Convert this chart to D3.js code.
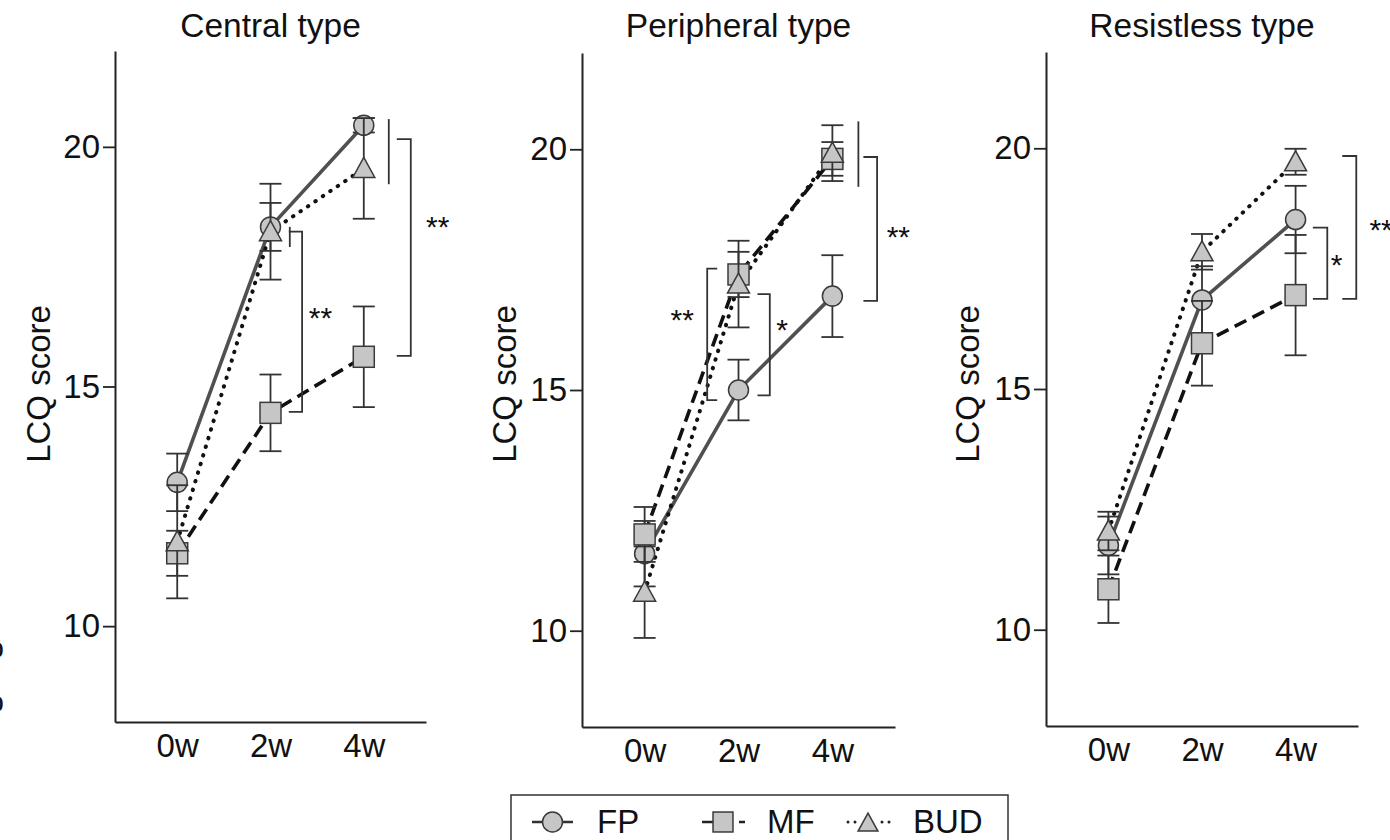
<!DOCTYPE html>
<html>
<head>
<meta charset="utf-8">
<script src="https://cdn.jsdelivr.net/npm/d3@7/dist/d3.min.js"></script>
<style>
  html, body { margin: 0; padding: 0; background: #fff; }
  svg { display: block; font-family: "Liberation Sans", Arial, Helvetica, sans-serif; }
</style>
</head>
<body>
<svg id="chart" width="1390" height="840"></svg>
<script>
// ---- data ----
const weeks = ["0w", "2w", "4w"];
const panelTitles = ["Central type", "Peripheral type", "Resistless type"];
const seriesNames = ["FP", "MF", "BUD"];
const yTicks = [10, 15, 20];
const yDomain = [8, 22];

// mean LCQ score per panel (Central, Peripheral, Resistless) and week
const fpMean  = [[13.0, 18.33, 20.45], [11.6, 15.0, 16.95], [11.75, 16.85, 18.52]];
const fpErr   = [[0.6, 0.5, 0.15],     [0.68, 0.63, 0.85],  [0.6, 0.7, 0.7]];
const mfMean  = [[11.52, 14.45, 15.62], [12.0, 17.4, 19.8], [10.84, 15.95, 16.95]];
const mfErr   = [[0.47, 0.8, 1.05],     [0.57, 0.47, 0.35], [0.7, 0.88, 1.25]];
const budMean = [[11.76, 18.23, 19.55], [10.8, 17.2, 19.92], [12.05, 17.85, 19.72]];
const budErr  = [[1.18, 1.0, 1.05],     [0.95, 0.9, 0.58],   [0.4, 0.37, 0.27]];

// significance marks: [panel, week, low value, high value, label, label value]
const sigMarks = [
  [0, "2w", 17.91, 18.33, "", null],
  [0, "2w", 14.47, 18.23, "**", 16.56],
  [0, "4w", 19.22, 20.58, "", null],
  [0, "4w", 15.64, 20.16, "**", 18.47],
  [1, "2w", 14.79, 17.52, "**", 16.59],
  [1, "2w", 14.89, 16.99, "*", 16.39],
  [1, "4w", 19.22, 20.58, "", null],
  [1, "4w", 16.85, 19.84, "**", 18.32],
  [2, "4w", 16.87, 18.35, "*", 17.72],
  [2, "4w", 16.87, 19.84, "**", 18.44]
];

// ---- layout ----
const panels = [
  { left: 115, right: 426, top: 51, bottom: 722 },
  { left: 582, right: 895, top: 53, bottom: 727 },
  { left: 1046, right: 1358, top: 52, bottom: 726 }
];
// per significance mark: vertical line offset, arm end offset (null = plain line), label offset
const sigLayout = [
  { dx: 19.3, arm: null },
  { dx: 31.6, arm: 18.3, ldx: 50 },
  { dx: 25, arm: null },
  { dx: 47, arm: 33, ldx: 74 },
  { dx: -31.3, arm: -21.3, ldx: -56.3 },
  { dx: 31.3, arm: 19, ldx: 43.7 },
  { dx: 26, arm: null },
  { dx: 44.7, arm: 31, ldx: 66 },
  { dx: 31.7, arm: 17.3, ldx: 41 },
  { dx: 60.7, arm: 46.7, ldx: 85.5 }
];

const textSize = 33;
const markFill = "#c6c6c6";
const markStroke = "#3a3a3a";
const inkColor = "#222";
const seriesStyle = {
  FP:  { color: "#505050", dash: null, cap: "butt", width: 3.6, shape: "circle" },
  MF:  { color: "#111", dash: "13,7", cap: "butt", width: 3.6, shape: "square" },
  BUD: { color: "#111", dash: "0.5,8.5", cap: "round", width: 4, shape: "triangle" }
};
const seriesData = { FP: [fpMean, fpErr], MF: [mfMean, mfErr], BUD: [budMean, budErr] };

const svg = d3.select("#chart");

function drawMarker(g, shape, cx, cy, s) {
  const k = s || 1;
  if (shape === "circle") {
    g.append("circle").attr("cx", cx).attr("cy", cy).attr("r", 10 * k)
      .attr("fill", markFill).attr("stroke", markStroke).attr("stroke-width", 1.5);
  } else if (shape === "square") {
    const h = 10.5 * k;
    g.append("rect").attr("x", cx - h).attr("y", cy - h).attr("width", 2 * h).attr("height", 2 * h)
      .attr("fill", markFill).attr("stroke", markStroke).attr("stroke-width", 1.5);
  } else {
    const p = [[cx, cy - 11 * k], [cx + 11 * k, cy + 9 * k], [cx - 11 * k, cy + 9 * k]];
    g.append("path").attr("d", "M" + p.map(q => q.join(",")).join("L") + "Z")
      .attr("fill", markFill).attr("stroke", markStroke).attr("stroke-width", 1.5)
      .attr("stroke-linejoin", "miter");
  }
}

panels.forEach((P, pi) => {
  const x = d3.scalePoint().domain(weeks).range([P.left, P.right]).padding(0.667);
  const y = d3.scaleLinear().domain(yDomain).range([P.bottom, P.top]);
  const g = svg.append("g");

  // title
  g.append("text").attr("x", (P.left + P.right) / 2).attr("y", 37)
    .attr("text-anchor", "middle").attr("font-size", 33.5).attr("fill", "#111")
    .text(panelTitles[pi]);

  // y axis label
  g.append("text")
    .attr("transform", `translate(${P.left - 65 - pi},${384}) rotate(-90)`)
    .attr("text-anchor", "middle").attr("font-size", textSize).attr("fill", "#111")
    .text("LCQ score");

  // axes
  const yAxis = g.append("g").attr("transform", `translate(${P.left},0)`)
    .call(d3.axisLeft(y).tickValues(yTicks).tickSize(12).tickSizeOuter(0).tickPadding(3));
  const xAxis = g.append("g").attr("transform", `translate(0,${P.bottom})`)
    .call(d3.axisBottom(x).tickSize(0).tickSizeOuter(0).tickPadding(11.5));
  [yAxis, xAxis].forEach(a => {
    a.select(".domain").attr("stroke", inkColor).attr("stroke-width", 2);
    a.selectAll(".tick line").attr("stroke", inkColor).attr("stroke-width", 1.8);
    a.selectAll(".tick text").attr("font-size", textSize).attr("fill", "#111")
      .attr("font-family", "Liberation Sans, Arial, sans-serif");
  });

  // connecting lines
  seriesNames.forEach(name => {
    const st = seriesStyle[name];
    const means = seriesData[name][0][pi];
    const line = d3.line().x((d, i) => x(weeks[i])).y(d => y(d));
    g.append("path").attr("d", line(means)).attr("fill", "none")
      .attr("stroke", st.color).attr("stroke-width", st.width)
      .attr("stroke-dasharray", st.dash).attr("stroke-linecap", st.cap);
  });

  // error bars and markers, series by series
  seriesNames.forEach(name => {
    const st = seriesStyle[name];
    const means = seriesData[name][0][pi];
    const errs = seriesData[name][1][pi];
    means.forEach((m, i) => {
      const cx = x(weeks[i]);
      const e = errs[i];
      const eb = g.append("g").attr("stroke", "#333").attr("stroke-width", 1.8).attr("fill", "none");
      eb.append("line").attr("x1", cx).attr("x2", cx).attr("y1", y(m + e)).attr("y2", y(m - e));
      [m + e, m - e].forEach(v => {
        eb.append("line").attr("x1", cx - 11).attr("x2", cx + 11).attr("y1", y(v)).attr("y2", y(v));
      });
      drawMarker(g, st.shape, cx, y(m));
    });
  });

  // significance brackets
  sigMarks.forEach((s, si) => {
    if (s[0] !== pi) return;
    const L = sigLayout[si];
    const bx = x(s[1]) + L.dx;
    const sg = g.append("g").attr("stroke", "#333").attr("stroke-width", 1.8).attr("fill", "none");
    if (L.arm === null) {
      sg.append("line").attr("x1", bx).attr("x2", bx).attr("y1", y(s[3])).attr("y2", y(s[2]));
    } else {
      const ax = x(s[1]) + L.arm;
      sg.append("path").attr("d",
        `M${ax},${y(s[3])}H${bx}V${y(s[2])}H${ax}`);
    }
    if (s[4]) {
      g.append("text").attr("x", x(s[1]) + L.ldx).attr("y", y(s[5]) + 16.5)
        .attr("text-anchor", "middle").attr("font-size", 30).attr("fill", "#111")
        .text(s[4]);
    }
  });
});

// legend
const lg = svg.append("g");
lg.append("rect").attr("x", 511).attr("y", 795).attr("width", 497).attr("height", 70)
  .attr("fill", "#fff").attr("stroke", "#333").attr("stroke-width", 1.5);
const ly = 822;
// FP
lg.append("line").attr("x1", 532).attr("x2", 573).attr("y1", ly).attr("y2", ly)
  .attr("stroke", "#333").attr("stroke-width", 2.5);
drawMarker(lg, "circle", 552.5, ly, 1);
// MF
lg.append("line").attr("x1", 702).attr("x2", 723).attr("y1", ly).attr("y2", ly)
  .attr("stroke", "#222").attr("stroke-width", 2.5);
lg.append("line").attr("x1", 739).attr("x2", 745).attr("y1", ly).attr("y2", ly)
  .attr("stroke", "#222").attr("stroke-width", 2.5);
drawMarker(lg, "square", 723, ly, 0.95);
// BUD
[848, 855, 882, 889].forEach(cx => {
  lg.append("circle").attr("cx", cx).attr("cy", ly).attr("r", 1.5).attr("fill", "#222");
});
drawMarker(lg, "triangle", 868, ly + 1, 0.9);
const legendText = [[597, "FP"], [767, "MF"], [913, "BUD"]];
legendText.forEach(([tx, t]) => {
  lg.append("text").attr("x", tx).attr("y", 833).attr("font-size", textSize).attr("fill", "#111").text(t);
});

// glyph fragments at the left edge
[[658, "o"], [712, "o"]].forEach(([ty, t]) => {
  svg.append("text").attr("x", 4).attr("y", ty).attr("text-anchor", "end")
    .attr("font-size", 30).attr("fill", "#111").text(t);
});
</script>
</body>
</html>
